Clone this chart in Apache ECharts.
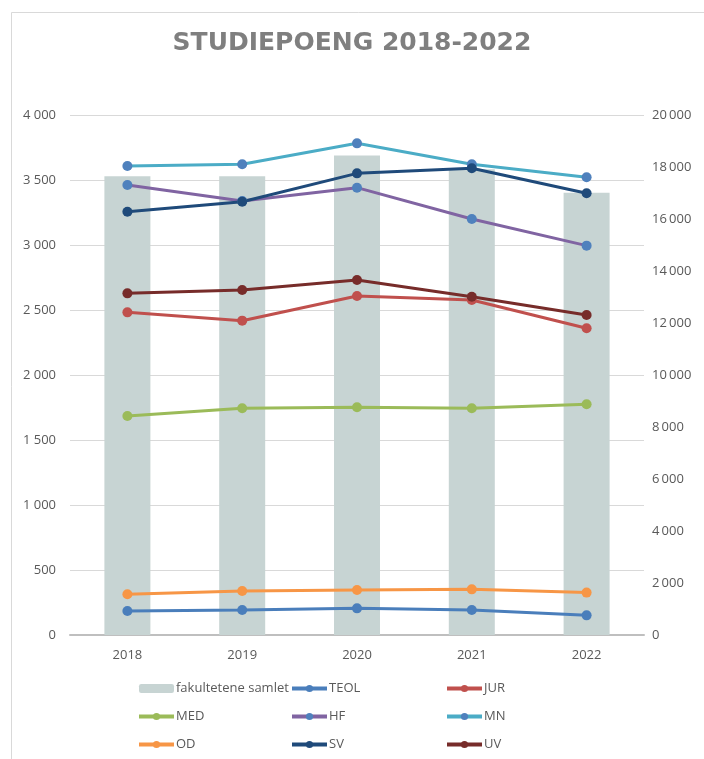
<!DOCTYPE html>
<html>
<head>
<meta charset="utf-8">
<script src="https://cdn.jsdelivr.net/npm/echarts@6/dist/echarts.min.js"></script>
<style>
html,body{margin:0;padding:0;background:#fff;}
#chart{width:704px;height:759px;}
</style>
</head>
<body>
<div id="chart"></div>
<script>
const years = ['2018', '2019', '2020', '2021', '2022'];
const samlet = [17640, 17640, 18440, 17910, 17010];
const TEOL = [185, 192, 205, 192, 151];
const JUR = [2482, 2418, 2608, 2577, 2359];
const MED = [1685, 1744, 1752, 1744, 1775];
const HF = [3462, 3338, 3441, 3200, 2995];
const MN = [3608, 3621, 3782, 3621, 3521];
const OD = [313, 338, 346, 351, 326];
const SV = [3256, 3333, 3551, 3590, 3398];
const UV = [2628, 2654, 2731, 2602, 2462];
const leftTicks = [0, 500, 1000, 1500, 2000, 2500, 3000, 3500, 4000];
const rightTicks = [0, 2000, 4000, 6000, 8000, 10000, 12000, 14000, 16000, 18000, 20000];

const FONT = 'Open Sans';
const fmt = (v, sep) => {
  const s = String(Math.round(v));
  return s.length > 3 ? s.slice(0, s.length - 3) + sep + s.slice(s.length - 3) : s;
};

function lineSeries(name, data, lineColor, markerColor) {
  return {
    name: name, type: 'line', data: data, yAxisIndex: 0,
    symbol: 'circle', symbolSize: 10,
    lineStyle: { color: lineColor, width: 3 },
    itemStyle: { color: markerColor || lineColor },
    z: 3
  };
}

const chart = echarts.init(document.getElementById('chart'));
const legendBase = {
  orient: 'vertical', top: 677, itemWidth: 35, itemHeight: 9, itemGap: 15,
  lineStyle: { width: 4 },
  textStyle: { fontFamily: FONT, fontSize: 13, color: '#595959', padding: [0, 0, 0, -3] }
};
chart.setOption({
  backgroundColor: '#ffffff',
  animation: false,
  title: {
    text: 'STUDIEPOENG 2018-2022', left: 'center', top: 26,
    textStyle: { fontFamily: 'DejaVu Sans', fontSize: 25, fontWeight: 'bold', color: '#7f7f7f' }
  },
  graphic: [{
    type: 'rect', shape: { x: 11.5, y: 12.5, width: 800, height: 800 },
    style: { fill: 'none', stroke: '#d9d9d9', lineWidth: 1 }, silent: true
  }],
  legend: [
    Object.assign({}, legendBase, { left: 132, data: ['fakultetene samlet', 'MED', 'OD'] }),
    Object.assign({}, legendBase, { left: 285, data: ['TEOL', 'HF', 'SV'] }),
    Object.assign({}, legendBase, { left: 440, data: ['JUR', 'MN', 'UV'] })
  ],
  grid: { left: 70, right: 60, top: 115, bottom: 124 },
  xAxis: {
    type: 'category', data: years,
    axisTick: { show: false },
    axisLine: { lineStyle: { color: '#bfbfbf', width: 2 } },
    axisLabel: { fontFamily: FONT, fontSize: 13, color: '#595959', margin: 14 }
  },
  yAxis: [{
    type: 'value', min: leftTicks[0], max: leftTicks[leftTicks.length - 1], interval: 500,
    axisLine: { show: false }, axisTick: { show: false },
    splitLine: { lineStyle: { color: '#d9d9d9', width: 1 } },
    axisLabel: { fontFamily: FONT, fontSize: 13, color: '#595959', margin: 14,
      formatter: v => fmt(v, ' ') }
  }, {
    type: 'value', min: rightTicks[0], max: rightTicks[rightTicks.length - 1], interval: 2000,
    axisLine: { show: false }, axisTick: { show: false },
    splitLine: { show: false },
    axisLabel: { fontFamily: FONT, fontSize: 13, color: '#595959', margin: 8,
      formatter: v => fmt(v, '\u2009') }
  }],
  series: [
    { name: 'fakultetene samlet', type: 'bar', yAxisIndex: 1, data: samlet, barWidth: 46,
      itemStyle: { color: '#c7d4d3' }, z: 1 },
    lineSeries('TEOL', TEOL, '#4a7ebb'),
    lineSeries('JUR', JUR, '#c0504d'),
    lineSeries('MED', MED, '#9bbb59'),
    lineSeries('HF', HF, '#8064a2', '#4f81bd'),
    lineSeries('MN', MN, '#4bacc6', '#4f81bd'),
    lineSeries('OD', OD, '#f79646'),
    lineSeries('SV', SV, '#1f4a7a'),
    lineSeries('UV', UV, '#772c2a')
  ]
});
</script>
</body>
</html>
